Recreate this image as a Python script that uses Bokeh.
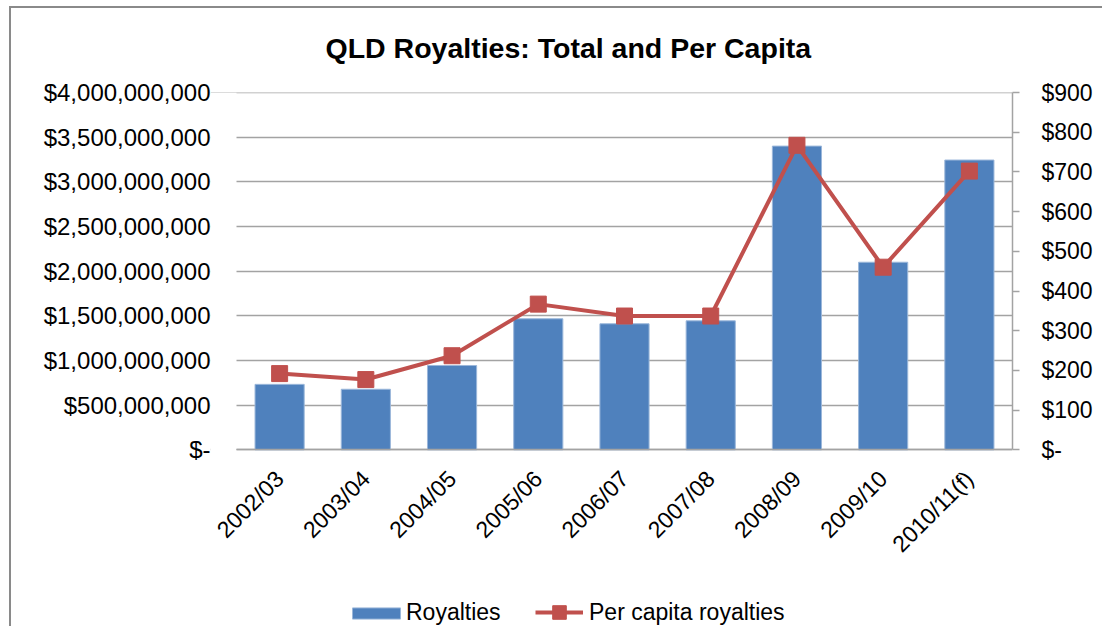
from bokeh.plotting import figure
from bokeh.models import (Range1d, LinearAxis, FixedTicker, CustomJSTickFormatter,
                          Legend, LegendItem, Span, Title, BoxAnnotation)
from bokeh.embed import file_html
from bokeh.resources import INLINE
import math

categories = ["2002/03", "2003/04", "2004/05", "2005/06", "2006/07",
              "2007/08", "2008/09", "2009/10", "2010/11(f)"]
royalties = [733e6, 678e6, 944e6, 1467e6, 1411e6, 1444e6, 3400e6, 2100e6, 3244e6]
per_capita = [192, 177, 237, 367, 337, 337, 767, 460, 702]
left_ticks = [0, 5e8, 1e9, 1.5e9, 2e9, 2.5e9, 3e9, 3.5e9, 4e9]
right_ticks = [0, 100, 200, 300, 400, 500, 600, 700, 800, 900]
title_text = "QLD Royalties: Total and Per Capita"

FONT = "Liberation Sans"
GRID = "#a3a3a3"
BAR = "#4F81BD"
LINE = "#C0504D"
FRAME = "#8a8a8a"

W, H = 1102, 626
TOP = 88            # plot area top (px)
PLOT_H = 360        # height of the value area (0 .. max) in px
BELOW = H - TOP - PLOT_H   # room under the zero line for labels and legend
AREA_L, AREA_R = 236, 1012  # category area in px
LPAD = 26           # extra room left of the category area for rotated labels

n = len(categories)
xs = [i + 0.5 for i in range(n)]           # category centres
x_start = -n * LPAD / (AREA_R - AREA_L)

left_max = left_ticks[-1]
right_max = right_ticks[-1]
left_start = -left_max * BELOW / PLOT_H
right_start = -right_max * BELOW / PLOT_H

p = figure(width=W, height=H, output_backend="svg", toolbar_location=None,
           x_range=Range1d(x_start, n),
           y_range=Range1d(left_start, left_max),
           min_border_left=AREA_L - LPAD, min_border_right=W - AREA_R,
           min_border_top=TOP, min_border_bottom=0,
           y_axis_location=None)
p.extra_y_ranges = {"pc": Range1d(right_start, right_max)}
p.outline_line_color = None
p.background_fill_color = "white"
p.border_fill_alpha = 0

# chart border (left and top edges), painted behind the transparent canvas
p.styles = {
    "background-color": "white",
    "background-image": f"linear-gradient({FRAME}, {FRAME}), linear-gradient({FRAME}, {FRAME})",
    "background-size": "2px 100%, 100% 2px",
    "background-position": "9px 6px, 9px 6px",
    "background-repeat": "no-repeat",
}

# title
p.title = Title(text=title_text, align="left", offset=89 + LPAD, standoff=58,
                text_font=FONT, text_font_size="28.5px", text_font_style="bold",
                text_color="black")

# left axis
yl = LinearAxis(ticker=FixedTicker(ticks=left_ticks), bounds=(0, left_max))
yl.formatter = CustomJSTickFormatter(code="""
  if (tick == 0) { return "$-"; }
  return "$" + Math.round(tick).toLocaleString("en-US");
""")
yl.axis_line_color = None
yl.major_tick_line_color = None
yl.minor_tick_line_color = None
yl.major_tick_out = 0
yl.major_tick_in = 0
yl.major_label_standoff = 0
yl.major_label_text_font = FONT
yl.major_label_text_font_size = "24px"
yl.major_label_text_color = "black"
p.add_layout(yl, "left")

# right axis
yr = LinearAxis(y_range_name="pc", ticker=FixedTicker(ticks=right_ticks),
                bounds=(0, right_max))
yr.formatter = CustomJSTickFormatter(code="""
  if (tick == 0) { return "$-"; }
  return "$" + Math.round(tick);
""")
yr.axis_line_color = GRID
yr.axis_line_width = 1.5
yr.major_tick_line_color = GRID
yr.major_tick_line_width = 1.5
yr.major_tick_out = 7
yr.major_tick_in = 0
yr.minor_tick_line_color = None
yr.major_label_standoff = 22
yr.major_label_text_font = FONT
yr.major_label_text_font_size = "23px"
yr.major_label_text_color = "black"
p.add_layout(yr, "right")

# grid from left axis ticks
p.ygrid.ticker = FixedTicker(ticks=left_ticks)
p.ygrid.grid_line_color = GRID
p.ygrid.grid_line_width = 1.5
p.xgrid.grid_line_color = None
p.add_layout(Span(location=left_max, dimension="width", level="underlay",
                  line_color=GRID, line_width=1.5))
# blank out the label margin left of the category area
p.add_layout(BoxAnnotation(right=0, fill_color="white", fill_alpha=1,
                           line_color=None, level="underlay"))

# x axis, pinned at the zero line
xa = p.xaxis[0]
xa.ticker = FixedTicker(ticks=xs)
xa.major_label_overrides = {x: c for x, c in zip(xs, categories)}
xa.bounds = (0, n)
xa.fixed_location = 0
xa.axis_line_color = GRID
xa.axis_line_width = 1.5
xa.major_tick_line_color = None
xa.major_tick_out = 0
xa.major_tick_in = 0
xa.minor_tick_line_color = None
xa.major_label_orientation = math.pi / 4
xa.major_label_standoff = 25
xa.major_label_text_font = FONT
xa.major_label_text_font_size = "23px"
xa.major_label_text_color = "black"

bars = p.vbar(x=xs, top=royalties, bottom=0, width=0.57, fill_color=BAR,
              line_color="#9bb7da", line_width=1)
ln = p.line(x=xs, y=per_capita, y_range_name="pc", line_color=LINE,
            line_width=4)
sq = p.scatter(x=xs, y=per_capita, y_range_name="pc", marker="square",
               size=16, fill_color=LINE, line_color=LINE)

common = dict(orientation="horizontal", margin=0, padding=0,
              border_line_color=None, background_fill_alpha=0,
              label_text_font=FONT, label_text_font_size="23px",
              label_text_color="black", label_height=24)
leg1 = Legend(items=[LegendItem(label="Royalties", renderers=[bars])],
              location=(346 - (AREA_L - LPAD), 0),
              glyph_width=60, glyph_height=14, label_standoff=0, **common)
leg2 = Legend(items=[LegendItem(label="Per capita royalties", renderers=[ln, sq])],
              location=(535 - (AREA_L - LPAD), -3),
              glyph_width=48, glyph_height=34, label_standoff=6, **common)
p.add_layout(leg1, "center")
p.add_layout(leg2, "center")

open("out.html", "w").write(file_html(p, INLINE))
